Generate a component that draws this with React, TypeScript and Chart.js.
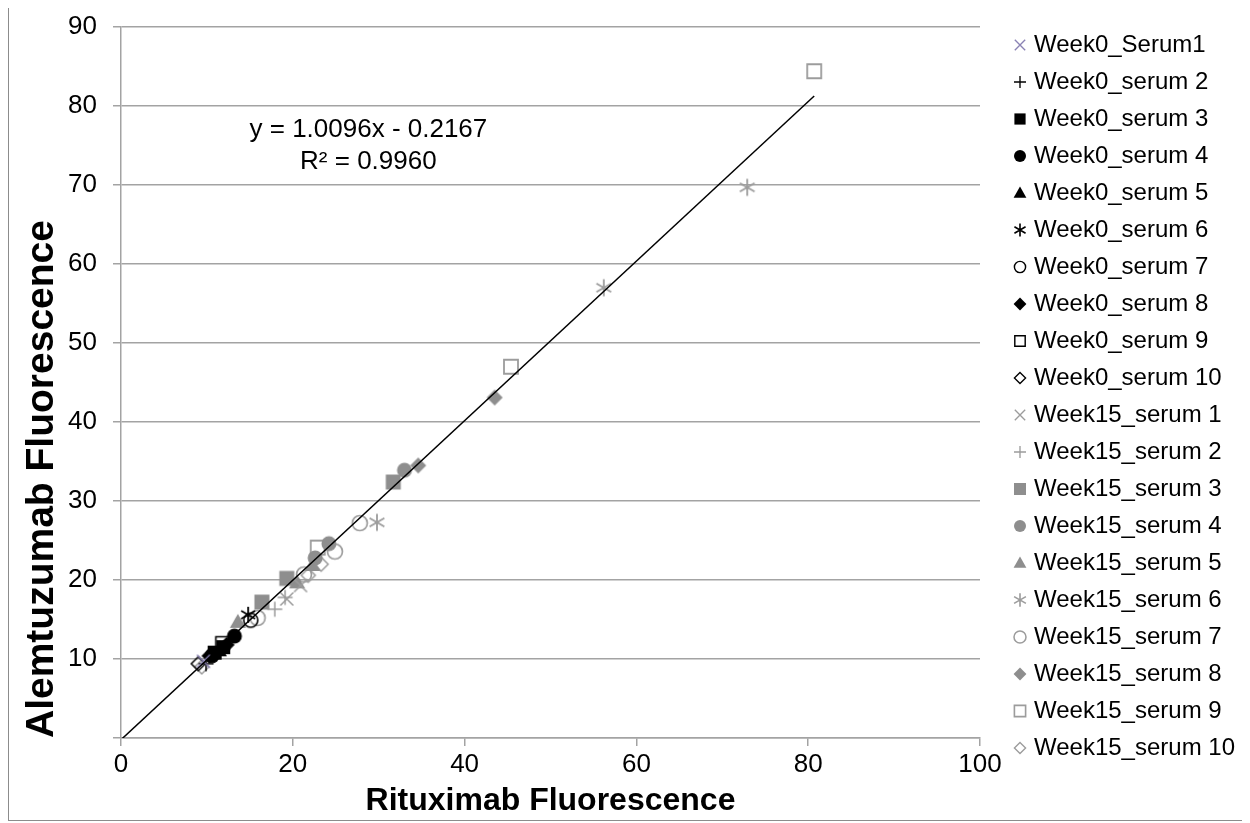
import React, { useEffect, useRef } from 'react';
import { Chart, registerables } from 'chart.js';

Chart.register(...registerables);

// ---------- data ----------
const SERIES_NAMES = [
  'Week0_Serum1', 'Week0_serum 2', 'Week0_serum 3', 'Week0_serum 4', 'Week0_serum 5',
  'Week0_serum 6', 'Week0_serum 7', 'Week0_serum 8', 'Week0_serum 9', 'Week0_serum 10',
  'Week15_serum 1', 'Week15_serum 2', 'Week15_serum 3', 'Week15_serum 4', 'Week15_serum 5',
  'Week15_serum 6', 'Week15_serum 7', 'Week15_serum 8', 'Week15_serum 9', 'Week15_serum 10',
];

// [Rituximab, Alemtuzumab]
const w0s1 = [[9.6, 9.7]];
const w0s2 = [[9.9, 9.4]];
const w0s3 = [[10.9, 10.8], [11.9, 11.5]];
const w0s4 = [[10.6, 10.4], [13.2, 12.9]];
const w0s5 = [[11.4, 11.1]];
const w0s6 = [[14.8, 15.6]];
const w0s7 = [[15.1, 14.9]];
const w0s8 = [[10.3, 10.4], [12.3, 11.8]];
const w0s9 = [[11.8, 12.0]];
const w0s10 = [[9.0, 9.4]];
const w15s1 = [[19.3, 17.6], [20.9, 19.3]];
const w15s2 = [[17.9, 16.3], [19.1, 17.8]];
const w15s3 = [[16.4, 17.2], [19.3, 20.2], [31.7, 32.4]];
const w15s4 = [[22.6, 22.8], [24.2, 24.6], [33.0, 33.9]];
const w15s5 = [[13.6, 14.7], [20.5, 19.7], [22.3, 21.9]];
const w15s6 = [[29.8, 27.3], [56.2, 57.0], [72.9, 69.7]];
const w15s7 = [[15.9, 15.2], [21.3, 20.7], [24.9, 23.6], [27.8, 27.2]];
const w15s8 = [[34.6, 34.5], [43.5, 43.1]];
const w15s9 = [[22.9, 24.1], [45.4, 47.0], [80.7, 84.4]];
const w15s10 = [[9.4, 9.0], [21.8, 20.6], [23.3, 22.0]];

const SERIES = [w0s1, w0s2, w0s3, w0s4, w0s5, w0s6, w0s7, w0s8, w0s9, w0s10,
  w15s1, w15s2, w15s3, w15s4, w15s5, w15s6, w15s7, w15s8, w15s9, w15s10];

const TREND_SLOPE = 1.0096;
const TREND_INTERCEPT = -0.2167;
const EQUATION_LINES = ['y = 1.0096x - 0.2167', 'R\u00B2 = 0.9960'];
const EQUATION_X = 28.8;
const EQUATION_Y = [77.0, 72.9];

const X_TICKS = [0, 20, 40, 60, 80, 100];
const Y_TICKS = [0, 10, 20, 30, 40, 50, 60, 70, 80, 90];

// ---------- styles ----------
type Shape = 'x' | 'plus' | 'square' | 'circle' | 'triangle' | 'asterisk' | 'diamond';
const BLACK = '#000000';
const LAV = '#8a82b4';
const GFILL = '#8e8e8e';
const GLINE = '#9c9c9c';

const STYLES: { shape: Shape; filled: boolean; size: number; color: string; lw: number }[] = [
  { shape: 'x', filled: false, size: 13, color: LAV, lw: 1.5 },
  { shape: 'plus', filled: false, size: 15, color: BLACK, lw: 1.5 },
  { shape: 'square', filled: true, size: 14, color: BLACK, lw: 1 },
  { shape: 'circle', filled: true, size: 15, color: BLACK, lw: 1 },
  { shape: 'triangle', filled: true, size: 16, color: BLACK, lw: 1 },
  { shape: 'asterisk', filled: false, size: 16, color: BLACK, lw: 1.8 },
  { shape: 'circle', filled: false, size: 14, color: BLACK, lw: 1.6 },
  { shape: 'diamond', filled: true, size: 16, color: BLACK, lw: 1 },
  { shape: 'square', filled: false, size: 13, color: BLACK, lw: 1.6 },
  { shape: 'diamond', filled: false, size: 14, color: BLACK, lw: 1.5 },
  { shape: 'x', filled: false, size: 13, color: GLINE, lw: 1.5 },
  { shape: 'plus', filled: false, size: 15, color: GLINE, lw: 1.5 },
  { shape: 'square', filled: true, size: 15, color: GFILL, lw: 1 },
  { shape: 'circle', filled: true, size: 15, color: GFILL, lw: 1 },
  { shape: 'triangle', filled: true, size: 16, color: GFILL, lw: 1 },
  { shape: 'asterisk', filled: false, size: 17, color: GLINE, lw: 1.8 },
  { shape: 'circle', filled: false, size: 15, color: GLINE, lw: 1.7 },
  { shape: 'diamond', filled: true, size: 16, color: GFILL, lw: 1 },
  { shape: 'square', filled: false, size: 14, color: GLINE, lw: 1.8 },
  { shape: 'diamond', filled: false, size: 14, color: GLINE, lw: 1.5 },
];

function makeMarker(shape: Shape, filled: boolean, size: number, color: string, lw: number) {
  let d = Math.ceil(size + lw + 4);
  if (d % 2 === 1) d += 1;
  const c = document.createElement('canvas');
  c.width = d;
  c.height = d;
  const g = c.getContext('2d') as CanvasRenderingContext2D;
  const m = d / 2;
  const h = size / 2;
  g.strokeStyle = color;
  g.fillStyle = color;
  g.lineWidth = lw;
  g.beginPath();
  switch (shape) {
    case 'x':
      g.moveTo(m - h, m - h); g.lineTo(m + h, m + h);
      g.moveTo(m + h, m - h); g.lineTo(m - h, m + h);
      g.stroke();
      return c;
    case 'plus':
      g.moveTo(m - h, m); g.lineTo(m + h, m);
      g.moveTo(m, m - h); g.lineTo(m, m + h);
      g.stroke();
      return c;
    case 'asterisk': {
      const k = h * 0.87;
      g.moveTo(m - k, m - h * 0.5); g.lineTo(m + k, m + h * 0.5);
      g.moveTo(m + k, m - h * 0.5); g.lineTo(m - k, m + h * 0.5);
      g.moveTo(m, m - h); g.lineTo(m, m + h);
      g.stroke();
      return c;
    }
    case 'square':
      g.rect(m - h, m - h, size, size);
      break;
    case 'circle':
      g.arc(m, m, h, 0, Math.PI * 2);
      break;
    case 'triangle':
      g.moveTo(m, m - h);
      g.lineTo(m + h, m + h * 0.75);
      g.lineTo(m - h, m + h * 0.75);
      g.closePath();
      break;
    case 'diamond':
      g.moveTo(m, m - h);
      g.lineTo(m + h, m);
      g.lineTo(m, m + h);
      g.lineTo(m - h, m);
      g.closePath();
      break;
  }
  if (filled) g.fill(); else g.stroke();
  return c;
}

const FONT = '"Liberation Sans", Arial, Helvetica, sans-serif';

const equationPlugin = {
  id: 'equationText',
  afterDatasetsDraw(chart: any) {
    const { ctx, scales } = chart;
    ctx.save();
    ctx.font = `26px ${FONT}`;
    ctx.fillStyle = '#000';
    ctx.textAlign = 'center';
    ctx.textBaseline = 'middle';
    EQUATION_LINES.forEach((t, i) => {
      ctx.fillText(t, scales.x.getPixelForValue(EQUATION_X), scales.y.getPixelForValue(EQUATION_Y[i]));
    });
    ctx.restore();
  },
};

export default function App() {
  const ref = useRef<HTMLCanvasElement>(null);

  useEffect(() => {
    const canvas = ref.current as HTMLCanvasElement;
    Chart.defaults.font.family = FONT;
    const plotMarkers = STYLES.map((s) => makeMarker(s.shape, s.filled, s.size, s.color, s.lw));
    const legendMarkers = STYLES.map((s) => makeMarker(s.shape, s.filled, s.size * 0.8, s.color, s.lw * 0.9));

    const datasets: any[] = SERIES.map((pts, i) => ({
      label: SERIES_NAMES[i],
      data: pts.map(([x, y]) => ({ x, y })),
      pointStyle: plotMarkers[i],
      pointRadius: 8,
      pointHoverRadius: 8,
      showLine: false,
    }));
    const xEnd = Math.max(...SERIES.flat().map((p) => p[0]));
    datasets.push({
      label: 'trend',
      data: [
        { x: 0, y: TREND_INTERCEPT },
        { x: xEnd, y: TREND_SLOPE * xEnd + TREND_INTERCEPT },
      ],
      showLine: true,
      borderColor: '#000',
      borderWidth: 1.5,
      pointRadius: 0,
      order: -1,
    });

    const gridColor = '#a3a3a3';
    const chart = new Chart(canvas, {
      type: 'scatter',
      data: { datasets },
      plugins: [equationPlugin],
      options: {
        animation: false,
        responsive: false,
        events: [],
        layout: { padding: { top: 12, right: 0, left: 0, bottom: 0 } },
        plugins: {
          tooltip: { enabled: false },
          legend: {
            position: 'right',
            align: 'start',
            maxWidth: 400,
            labels: {
              usePointStyle: true,
              boxWidth: 4,
              boxHeight: 12,
              padding: 13,
              color: '#000',
              font: { size: 24, family: FONT },
              generateLabels: () =>
                SERIES_NAMES.map((name, i) => ({
                  text: name,
                  pointStyle: legendMarkers[i] as any,
                  fillStyle: '#000',
                  strokeStyle: '#000',
                  lineWidth: 0,
                  hidden: false,
                  datasetIndex: i,
                  fontColor: '#000',
                })),
            },
          },
        },
        scales: {
          x: {
            type: 'linear',
            position: 'bottom',
            min: 0,
            max: 100,
            afterBuildTicks: (s: any) => { s.ticks = X_TICKS.map((v) => ({ value: v })); },
            afterFit: (s: any) => { s.height = 82; s.paddingRight = 0; s.paddingLeft = 0; },
            ticks: { color: '#000', font: { size: 26 }, padding: 3, maxRotation: 0 },
            grid: { drawOnChartArea: false, drawTicks: true, tickLength: 8, color: gridColor, lineWidth: 1.5 },
            border: { display: true, color: gridColor, width: 1.5 },
            title: {
              display: true,
              text: 'Rituximab Fluorescence',
              color: '#000',
              font: { size: 32, weight: 'bold' },
              padding: { top: 0, bottom: 0 },
            },
          },
          xTop: {
            type: 'linear',
            position: 'top',
            display: true,
            ticks: { display: false },
            grid: { display: false },
            border: { display: false },
            afterFit: (s: any) => { s.height = 7; s.paddingLeft = 0; s.paddingRight = 0; },
          },
          y: {
            type: 'linear',
            position: 'left',
            min: 0,
            max: 90,
            afterBuildTicks: (s: any) => { s.ticks = Y_TICKS.map((v) => ({ value: v })); },
            afterFit: (s: any) => { s.width = 112; s.paddingTop = 0; s.paddingBottom = 0; },
            ticks: {
              color: '#000',
              font: { size: 26 },
              padding: 16,
              callback: (v: any) => (Number(v) === 0 ? '' : String(v)),
            },
            grid: { color: gridColor, lineWidth: 1.5, tickLength: 8, drawTicks: true },
            border: { display: true, color: gridColor, width: 1.5 },
            title: {
              display: true,
              text: 'Alemtuzumab Fluorescence',
              align: 'start',
              color: '#000',
              font: { size: 39, weight: 'bold' },
              padding: { top: 10, bottom: 0 },
            },
          },
          yRight: {
            type: 'linear',
            position: 'right',
            display: true,
            ticks: { display: false },
            grid: { display: false },
            border: { display: false },
            afterFit: (s: any) => { s.width = 25; s.paddingTop = 0; s.paddingBottom = 0; },
          },
        },
      } as any,
    });
    return () => chart.destroy();
  }, []);

  return (
    <div style={{ border: '1px solid #8c8c8c', width: 1236, height: 812, marginTop: -1, background: '#fff' }}>
      <canvas ref={ref} width={1236} height={812} style={{ display: 'block' }} />
    </div>
  );
}
